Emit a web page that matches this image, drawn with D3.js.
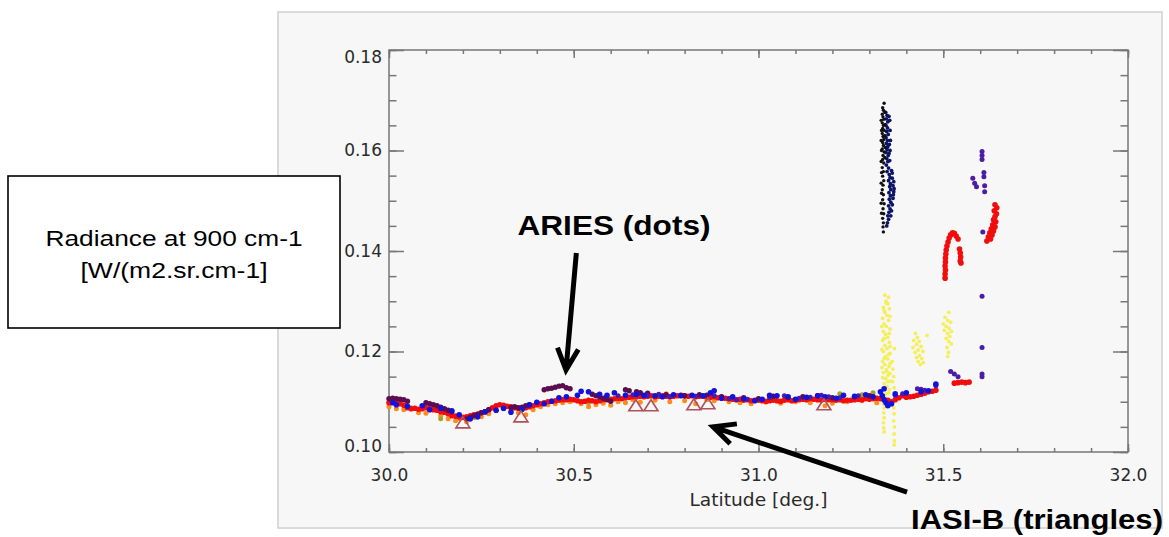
<!DOCTYPE html>
<html>
<head>
<meta charset="utf-8">
<script src="https://cdn.jsdelivr.net/npm/d3@7"></script>
<style>
  body { margin: 0; background: #fff; }
  svg { display: block; }
</style>
</head>
<body>
<svg id="chart" width="1169" height="537"></svg>
<script>
// ARIES radiance at 900 cm-1 vs latitude, with IASI-B samples
const xTicks = [30.0, 30.5, 31.0, 31.5, 32.0];
const yTicks = [0.10, 0.12, 0.14, 0.16, 0.18];

// [latitude, radiance]
const redDots = [
  [30.00,0.1098],[30.01,0.1099],[30.02,0.1097],[30.03,0.1096],[30.04,0.1093],[30.05,0.1088],[30.06,0.1086],[30.07,0.1087],[30.08,0.1085],[30.09,0.1086],
  [30.10,0.1088],[30.11,0.1086],[30.12,0.1084],[30.13,0.1083],[30.14,0.1080],[30.15,0.1079],[30.16,0.1076],[30.17,0.1072],[30.18,0.1071],[30.19,0.1070],
  [30.20,0.1069],[30.21,0.1070],[30.22,0.1072],[30.23,0.1074],[30.24,0.1075],[30.25,0.1078],[30.26,0.1080],[30.27,0.1084],[30.28,0.1088],[30.29,0.1092],
  [30.30,0.1094],[30.31,0.1093],[30.32,0.1091],[30.33,0.1090],[30.34,0.1088],[30.35,0.1087],[30.36,0.1086],[30.37,0.1088],[30.38,0.1090],[30.39,0.1092],
  [30.40,0.1094],[30.41,0.1096],[30.42,0.1098],[30.43,0.1100],[30.44,0.1101],[30.45,0.1102],[30.46,0.1103],[30.47,0.1104],[30.48,0.1104],[30.49,0.1105],
  [30.50,0.1104],[30.51,0.1102],[30.52,0.1100],[30.53,0.1101],[30.54,0.1103],[30.55,0.1102],[30.56,0.1100],[30.57,0.1102],[30.58,0.1104],[30.59,0.1105],
  [30.60,0.1104],[30.61,0.1106],[30.62,0.1107],[30.63,0.1106],[30.64,0.1108],[30.65,0.1109],[30.66,0.1110],[30.67,0.1110],[30.68,0.1111],[30.69,0.1110],
  [30.70,0.1111],[30.71,0.1112],[30.72,0.1110],[30.73,0.1111],[30.74,0.1112],[30.75,0.1111],[30.76,0.1110],[30.77,0.1111],[30.78,0.1112],[30.79,0.1113],
  [30.80,0.1112],[30.81,0.1111],[30.82,0.1112],[30.83,0.1110],[30.84,0.1111],[30.85,0.1111],[30.86,0.1110],[30.87,0.1109],[30.88,0.1110],[30.89,0.1108],
  [30.90,0.1109],[30.91,0.1107],[30.92,0.1106],[30.93,0.1105],[30.94,0.1104],[30.95,0.1105],[30.96,0.1103],[30.97,0.1104],[30.98,0.1102],[30.99,0.1103],
  [31.00,0.1103],[31.01,0.1102],[31.02,0.1101],[31.03,0.1102],[31.04,0.1103],[31.05,0.1102],[31.06,0.1101],[31.07,0.1103],[31.08,0.1104],[31.09,0.1102],
  [31.10,0.1103],[31.11,0.1104],[31.12,0.1105],[31.13,0.1104],[31.14,0.1106],[31.15,0.1105],[31.16,0.1104],[31.17,0.1103],[31.18,0.1105],[31.19,0.1104],
  [31.20,0.1104],[31.21,0.1103],[31.22,0.1104],[31.23,0.1102],[31.24,0.1103],[31.25,0.1103],[31.26,0.1104],[31.27,0.1105],[31.28,0.1104],[31.29,0.1106],
  [31.30,0.1105],[31.31,0.1106],[31.32,0.1107],[31.33,0.1106],[31.34,0.1104],[31.35,0.1103],[31.36,0.1100],[31.37,0.1104],[31.38,0.1108],[31.39,0.1112],
  [31.40,0.1109],[31.41,0.1110],[31.42,0.1111],[31.43,0.1113],[31.44,0.1115],[31.45,0.1117],[31.46,0.1120],[31.47,0.1121],[31.48,0.1123],
  [31.53,0.1137],[31.54,0.1138],[31.55,0.1139],[31.56,0.1138],[31.57,0.1139],
  // hook near 31.5
  [31.505,0.1346],[31.505,0.1354],[31.506,0.1362],[31.505,0.1370],[31.506,0.1378],[31.506,0.1386],[31.507,0.1394],[31.508,0.1402],[31.510,0.1410],
  [31.513,0.1418],[31.516,0.1426],[31.520,0.1432],[31.525,0.1436],[31.530,0.1435],[31.535,0.1430],[31.540,0.1424],[31.544,0.1404],[31.546,0.1396],
  [31.547,0.1388],[31.546,0.1380],[31.548,0.1376],
  // blob near 31.63
  [31.640,0.1492],[31.645,0.1486],[31.638,0.1480],[31.644,0.1474],[31.640,0.1468],[31.636,0.1462],[31.642,0.1458],[31.634,0.1452],
  [31.640,0.1448],[31.630,0.1444],[31.636,0.1440],[31.626,0.1436],[31.632,0.1432],[31.622,0.1428],[31.628,0.1424],[31.618,0.1420]
];

const orangeDots = [
  [30.00,0.1090],[30.02,0.1086],[30.04,0.1084],[30.06,0.1088],[30.08,0.1078],[30.10,0.1077],[30.12,0.1085],[30.14,0.1072],[30.16,0.1066],
  [30.18,0.1062],[30.19,0.1066],[30.21,0.1060],[30.23,0.1068],[30.25,0.1070],[30.27,0.1076],[30.29,0.1082],[30.31,0.1086],[30.33,0.1082],
  [30.35,0.1078],[30.37,0.1074],[30.39,0.1084],[30.41,0.1090],[30.43,0.1094],[30.45,0.1096],[30.47,0.1098],[30.49,0.1100],[30.52,0.1096],
  [30.54,0.1090],[30.56,0.1094],[30.58,0.1097],[30.60,0.1093],[30.62,0.1100],[30.64,0.1098],[30.66,0.1104],[30.68,0.1099],[30.72,0.1103],
  [30.75,0.1116],[30.76,0.1100],[30.80,0.1102],[30.83,0.1096],[30.86,0.1104],[30.88,0.1102],[30.92,0.1100],[30.95,0.1098],[30.98,0.1096],
  [31.02,0.1099],[31.06,0.1097],[31.10,0.1100],[31.14,0.1098],[31.18,0.1092],[31.20,0.1097],[31.24,0.1100],[31.28,0.1102],[31.32,0.1098]
];

const oliveDots = [
  [30.14,0.1066],[30.18,0.1072],[30.40,0.1095],[30.54,0.1098],[30.60,0.1106],[31.22,0.1116],[31.28,0.1114],[31.31,0.1118]
];

const maroonDots = [
  [30.00,0.1106],[30.01,0.1107],[30.02,0.1106],[30.03,0.1105],[30.04,0.1104],[30.05,0.1101],[30.10,0.1098],[30.11,0.1096],[30.12,0.1094],
  [30.13,0.1092],[30.14,0.1089],[30.15,0.1086],[30.16,0.1083],[30.17,0.1080],[30.21,0.1066],[30.22,0.1069],[30.23,0.1072],[30.24,0.1075],
  [30.25,0.1078],[30.26,0.1080],[30.27,0.1084],[30.33,0.1088],[30.34,0.1090],[30.35,0.1088],[30.36,0.1089],[30.37,0.1092],[30.38,0.1094],
  [30.42,0.1124],[30.43,0.1126],[30.44,0.1127],[30.45,0.1129],[30.46,0.1131],[30.47,0.1132],[30.48,0.1128],[30.49,0.1126],
  [30.55,0.1115],[30.56,0.1112],[30.57,0.1110],[30.58,0.1107],[30.59,0.1104],[30.60,0.1101],[30.64,0.1124],[30.65,0.1122],[30.67,0.1120],
  [30.68,0.1118],[30.70,0.1117],[30.75,0.1114],[30.80,0.1112],[30.84,0.1114],[30.86,0.1113],[30.90,0.1110],[30.96,0.1108],[31.00,0.1106],
  [31.04,0.1111],[31.08,0.1109],[31.12,0.1110],[31.16,0.1112],[31.20,0.1108],[31.26,0.1110],[31.30,0.1112]
];

const indigoDots = [
  [30.62,0.1112],[30.66,0.1114],[30.70,0.1112],[30.73,0.1115],[30.76,0.1110],[30.79,0.1113],[30.83,0.1111],[30.88,0.1112],[30.92,0.1106],
  [30.94,0.1104],[30.97,0.1105],[31.03,0.1108],[31.07,0.1112],[31.11,0.1107],[31.14,0.1109],[31.17,0.1113],[31.19,0.1110],[31.22,0.1108],
  [31.27,0.1112],[31.31,0.1110],[31.37,0.1113],[31.39,0.1116],[31.43,0.1126],[31.44,0.1125],[31.45,0.1123],[31.48,0.1132],
  [31.52,0.1160],[31.53,0.1155],[31.54,0.1150],
  [31.580,0.1545],[31.585,0.1535],[31.590,0.1528],[31.605,0.1598],[31.605,0.1590],[31.605,0.1582],[31.610,0.1556],[31.610,0.1548],
  [31.612,0.1530],[31.612,0.1518],[31.607,0.1438],[31.605,0.1310],[31.605,0.1208],[31.605,0.1155],[31.605,0.1150]
];

const blueDots = [
  [30.01,0.1098],[30.02,0.1094],[30.05,0.1091],[30.09,0.1092],[30.11,0.1084],[30.14,0.1087],[30.17,0.1082],[30.19,0.1074],[30.22,0.1066],
  [30.24,0.1070],[30.26,0.1080],[30.29,0.1083],[30.31,0.1087],[30.33,0.1079],[30.36,0.1085],[30.38,0.1094],[30.40,0.1099],[30.42,0.1096],
  [30.44,0.1101],[30.46,0.1108],[30.48,0.1110],[30.51,0.1113],[30.52,0.1121],[30.54,0.1120],[30.57,0.1115],[30.59,0.1113],[30.61,0.1118],
  [30.64,0.1113],[30.67,0.1115],[30.69,0.1113],[30.72,0.1112],[30.74,0.1110],[30.77,0.1114],[30.79,0.1112],[30.82,0.1113],[30.85,0.1112],
  [30.87,0.1118],[30.88,0.1122],[30.90,0.1107],[30.93,0.1110],[30.96,0.1106],[30.99,0.1102],[31.01,0.1105],[31.03,0.1113],[31.05,0.1112],
  [31.08,0.1110],[31.10,0.1105],[31.13,0.1109],[31.16,0.1112],[31.18,0.1110],[31.21,0.1107],[31.23,0.1113],[31.26,0.1111],[31.29,0.1114],
  [31.31,0.1110],[31.33,0.1120],[31.335,0.1112],[31.34,0.1104],[31.345,0.1098],[31.35,0.1092],[31.34,0.1126],[31.36,0.1096],[31.37,0.1116],
  [31.40,0.1118],[31.44,0.1120],[31.46,0.1122],[31.48,0.1135]
];

const navyDots = [
  [31.344,0.1676],[31.348,0.1670],[31.346,0.1663],[31.350,0.1657],[31.345,0.1650],[31.349,0.1645],[31.347,0.1638],[31.351,0.1632],
  [31.345,0.1626],[31.349,0.1620],[31.346,0.1614],[31.350,0.1608],[31.348,0.1602],[31.345,0.1596],[31.351,0.1590],[31.347,0.1584],
  [31.350,0.1578],[31.346,0.1571],[31.352,0.1565],[31.348,0.1558],[31.354,0.1552],[31.356,0.1546],[31.352,0.1540],[31.357,0.1534],
  [31.355,0.1528],[31.358,0.1522],[31.353,0.1516],[31.357,0.1510],[31.354,0.1503],[31.358,0.1497],[31.352,0.1490],[31.356,0.1484],
  [31.353,0.1477],[31.350,0.1470],[31.352,0.1463],[31.349,0.1456],[31.347,0.1450],
  [31.360,0.1560],[31.362,0.1545],[31.364,0.1530],[31.366,0.1518],[31.364,0.1505],[31.362,0.1492],[31.360,0.1480],[31.358,0.1470],
  [31.362,0.1555],[31.366,0.1538],[31.367,0.1524],[31.365,0.1512],[31.355,0.1660],[31.356,0.1640],[31.357,0.1620],[31.356,0.1600],
  [31.355,0.1580],[31.353,0.1668],[31.354,0.1612],[31.353,0.1594]
];

const blackDots = [
  [31.340,0.1694],[31.336,0.1685],[31.338,0.1680],[31.335,0.1672],[31.337,0.1667],[31.339,0.1662],[31.335,0.1655],[31.338,0.1650],
  [31.336,0.1644],[31.340,0.1640],[31.335,0.1634],[31.337,0.1628],[31.339,0.1622],[31.336,0.1616],[31.338,0.1610],[31.335,0.1603],
  [31.340,0.1597],[31.337,0.1590],[31.336,0.1582],[31.339,0.1575],[31.335,0.1566],[31.338,0.1558],[31.336,0.1549],[31.339,0.1540],
  [31.337,0.1531],[31.335,0.1522],[31.338,0.1512],[31.336,0.1502],[31.340,0.1494],[31.337,0.1484],[31.339,0.1474],[31.336,0.1465],
  [31.338,0.1456],[31.337,0.1448],[31.338,0.1438],
  [31.332,0.1660],[31.333,0.1640],[31.332,0.1620],[31.333,0.1600],[31.332,0.1578],[31.333,0.1556],[31.332,0.1535],[31.333,0.1515],
  [31.332,0.1495],[31.333,0.1475],[31.342,0.1676],[31.343,0.1652],[31.342,0.1630],[31.343,0.1606],[31.342,0.1586]
];

const yellowDots = [
  [31.342,0.1312],[31.352,0.1308],[31.345,0.1300],[31.350,0.1295],[31.338,0.1288],[31.354,0.1285],[31.342,0.1278],[31.348,0.1272],
  [31.336,0.1266],[31.352,0.1262],[31.340,0.1255],[31.346,0.1250],[31.356,0.1245],[31.338,0.1240],[31.344,0.1234],[31.350,0.1228],
  [31.336,0.1222],[31.354,0.1218],[31.342,0.1212],[31.348,0.1206],[31.338,0.1200],[31.356,0.1196],[31.344,0.1190],[31.350,0.1185],
  [31.336,0.1180],[31.342,0.1174],[31.353,0.1170],[31.346,0.1164],[31.338,0.1158],[31.350,0.1152],[31.344,0.1146],[31.356,0.1141],
  [31.340,0.1136],[31.348,0.1130],[31.336,0.1124],[31.352,0.1118],[31.342,0.1112],[31.346,0.1104],[31.338,0.1096],[31.340,0.1088],
  [31.339,0.1078],[31.340,0.1068],[31.338,0.1058],[31.339,0.1048],[31.340,0.1040],[31.366,0.1088],[31.367,0.1076],[31.366,0.1062],
  [31.368,0.1050],[31.367,0.1036],[31.368,0.1022],[31.367,0.1014],[31.362,0.1180],[31.364,0.1165],[31.366,0.1150],[31.363,0.1140],
  [31.367,0.1128],[31.368,0.1206],
  [31.346,0.1296],[31.340,0.1282],[31.356,0.1270],[31.334,0.1250],[31.354,0.1236],[31.340,0.1226],[31.356,0.1210],[31.334,0.1204],
  [31.352,0.1194],[31.340,0.1186],[31.356,0.1176],[31.334,0.1168],[31.348,0.1160],[31.356,0.1156],[31.336,0.1148],[31.350,0.1140],
  [31.342,0.1128],[31.354,0.1124],[31.346,0.1116],
  [31.425,0.1236],[31.430,0.1228],[31.420,0.1222],[31.435,0.1220],[31.428,0.1214],[31.418,0.1208],[31.440,0.1210],[31.432,0.1203],
  [31.424,0.1198],[31.445,0.1200],[31.436,0.1192],[31.428,0.1188],[31.442,0.1186],[31.432,0.1180],[31.446,0.1178],[31.438,0.1174],
  [31.456,0.1232],
  [31.515,0.1278],[31.505,0.1268],[31.512,0.1262],[31.520,0.1258],[31.500,0.1255],[31.508,0.1250],[31.516,0.1246],[31.522,0.1240],
  [31.503,0.1242],[31.512,0.1236],[31.518,0.1230],[31.508,0.1226],[31.515,0.1220],[31.522,0.1215],[31.510,0.1208],[31.514,0.1198],
  [31.512,0.1190]
];

// IASI-B footprints
const iasiTriangles = [
  [30.200,0.1058],[30.357,0.1070],[30.668,0.1092],[30.709,0.1092],[30.825,0.1094],[30.863,0.1096],[31.177,0.1094]
];

// annotation arrows: [tail, tip] in data units
const ariesArrow = [[30.507, 0.1396], [30.479, 0.1163]];
const iasiArrow = [[31.402, 0.0920], [30.877, 0.1050]];

const svg = d3.select("#chart");

// Grey panel behind the plot
svg.append("rect")
  .attr("x", 278).attr("y", 12)
  .attr("width", 884).attr("height", 516)
  .attr("fill", "#f7f7f7")
  .attr("stroke", "#d0d0d0")
  .attr("stroke-width", 1.5);

const x = d3.scaleLinear().domain([30, 32]).range([389, 1128]);
const y = d3.scaleLinear().domain([0.10, 0.18]).range([452, 50]);

const axisColor = "#777";
const minorX = d3.range(30, 32.001, 0.1).map((v) => +v.toFixed(1));
const minorY = d3.range(0.10, 0.1801, 0.005).map((v) => +v.toFixed(3));

function styleAxis(g) {
  g.select(".domain").remove();
  g.selectAll(".tick line").attr("stroke", axisColor).attr("stroke-width", 1.5);
  g.selectAll(".tick text")
    .attr("fill", "#2a2a2a")
    .style("font-family", "DejaVu Sans, sans-serif")
    .style("font-size", "17px");
}

// bottom
svg.append("g").attr("transform", `translate(0,452)`)
  .call(d3.axisBottom(x).tickValues(minorX).tickSize(-4).tickFormat(""))
  .call(styleAxis);
svg.append("g").attr("transform", `translate(0,452)`)
  .call(d3.axisBottom(x).tickValues(xTicks).tickSize(-8).tickPadding(17).tickFormat(d3.format(".1f")))
  .call(styleAxis);
// top
svg.append("g").attr("transform", `translate(0,50)`)
  .call(d3.axisTop(x).tickValues(minorX).tickSize(-4).tickFormat(""))
  .call(styleAxis);
svg.append("g").attr("transform", `translate(0,50)`)
  .call(d3.axisTop(x).tickValues(xTicks).tickSize(-8).tickFormat(""))
  .call(styleAxis);
// left
svg.append("g").attr("transform", `translate(389,0)`)
  .call(d3.axisLeft(y).tickValues(minorY).tickSize(-7.5).tickFormat(""))
  .call(styleAxis);
const leftAxis = svg.append("g").attr("transform", `translate(389,0)`)
  .call(d3.axisLeft(y).tickValues(yTicks).tickSize(-15).tickPadding(7).tickFormat(d3.format(".2f")))
  .call(styleAxis);
// first and last labels sit inside the axis span
leftAxis.selectAll(".tick text")
  .attr("dy", (d) => (d === 0.18 ? "0.75em" : d === 0.10 ? "-0.05em" : "0.32em"));
// right
svg.append("g").attr("transform", `translate(1128,0)`)
  .call(d3.axisRight(y).tickValues(minorY).tickSize(-7.5).tickFormat(""))
  .call(styleAxis);
svg.append("g").attr("transform", `translate(1128,0)`)
  .call(d3.axisRight(y).tickValues(yTicks).tickSize(-15).tickFormat(""))
  .call(styleAxis);

// frame
svg.append("rect")
  .attr("x", x(30)).attr("y", y(0.18))
  .attr("width", x(32) - x(30)).attr("height", y(0.10) - y(0.18))
  .attr("fill", "none")
  .attr("stroke", axisColor)
  .attr("stroke-width", 1.5);

svg.append("text")
  .attr("x", (x(30) + x(32)) / 2)
  .attr("y", 506)
  .attr("text-anchor", "middle")
  .attr("textLength", 138)
  .attr("lengthAdjust", "spacingAndGlyphs")
  .attr("fill", "#2a2a2a")
  .style("font-family", "DejaVu Sans, sans-serif")
  .style("font-size", "17px")
  .text("Latitude [deg.]");

// Dots
function drawDots(data, color, r) {
  svg.append("g")
    .selectAll("circle")
    .data(data)
    .enter()
    .append("circle")
    .attr("cx", (d) => x(d[0]))
    .attr("cy", (d) => y(d[1]))
    .attr("r", r)
    .attr("fill", color);
}

drawDots(orangeDots, "#ff8c1a", 2.5);
drawDots(yellowDots, "#f4ef5a", 1.9);
drawDots(oliveDots, "#a8a020", 2.5);
drawDots(redDots, "#f20d0d", 2.8);
drawDots(maroonDots, "#5c0c50", 2.7);
drawDots(indigoDots, "#4c1ca6", 2.5);
drawDots(blueDots, "#1212dc", 2.8);
drawDots(navyDots, "#0c1466", 1.9);
drawDots(blackDots, "#111", 1.7);

// IASI-B triangles
svg.append("g")
  .selectAll("path")
  .data(iasiTriangles)
  .enter()
  .append("path")
  .attr("d", (d) => {
    const cx = x(d[0]), cy = y(d[1]);
    return `M${cx},${cy - 6}L${cx + 7},${cy + 5}L${cx - 7},${cy + 5}Z`;
  })
  .attr("fill", "none")
  .attr("stroke", "#b0505c")
  .attr("stroke-width", 1.6);

// Arrows
function drawArrow(arrow) {
  const [t0, t1] = arrow;
  const x0 = x(t0[0]), y0 = y(t0[1]);
  const x1 = x(t1[0]), y1 = y(t1[1]);
  const ang = Math.atan2(y0 - y1, x0 - x1);
  const len = 24, spread = 0.45;
  const w1 = [x1 + len * Math.cos(ang + spread), y1 + len * Math.sin(ang + spread)];
  const w2 = [x1 + len * Math.cos(ang - spread), y1 + len * Math.sin(ang - spread)];
  svg.append("path")
    .attr("d", `M${x0},${y0}L${x1},${y1}M${w1[0]},${w1[1]}L${x1},${y1}L${w2[0]},${w2[1]}`)
    .attr("fill", "none")
    .attr("stroke", "#000")
    .attr("stroke-width", 5)
    .attr("stroke-linecap", "butt")
    .attr("stroke-linejoin", "miter");
}
drawArrow(ariesArrow);
drawArrow(iasiArrow);

svg.append("text")
  .attr("x", 614).attr("y", 235)
  .attr("text-anchor", "middle")
  .attr("textLength", 193)
  .attr("lengthAdjust", "spacingAndGlyphs")
  .style("font-family", "Liberation Sans, Arial, sans-serif")
  .style("font-weight", "bold")
  .style("font-size", "28px")
  .text("ARIES (dots)");

svg.append("text")
  .attr("x", 911).attr("y", 529)
  .attr("textLength", 252)
  .attr("lengthAdjust", "spacingAndGlyphs")
  .style("font-family", "Liberation Sans, Arial, sans-serif")
  .style("font-weight", "bold")
  .style("font-size", "27px")
  .text("IASI-B (triangles)");

// y-axis title box
svg.append("rect")
  .attr("x", 8).attr("y", 176)
  .attr("width", 332).attr("height", 152)
  .attr("fill", "#fff")
  .attr("stroke", "#000")
  .attr("stroke-width", 1.6);

const boxLines = ["Radiance at 900 cm-1", "[W/(m2.sr.cm-1]"];
const boxWidths = [257, 187];
svg.append("g")
  .selectAll("text")
  .data(boxLines)
  .enter()
  .append("text")
  .attr("x", 174)
  .attr("y", (d, i) => 246 + i * 32)
  .attr("text-anchor", "middle")
  .attr("textLength", (d, i) => boxWidths[i])
  .attr("lengthAdjust", "spacingAndGlyphs")
  .style("font-family", "Liberation Sans, Arial, sans-serif")
  .style("font-size", "22px")
  .text((d) => d);
</script>
</body>
</html>
